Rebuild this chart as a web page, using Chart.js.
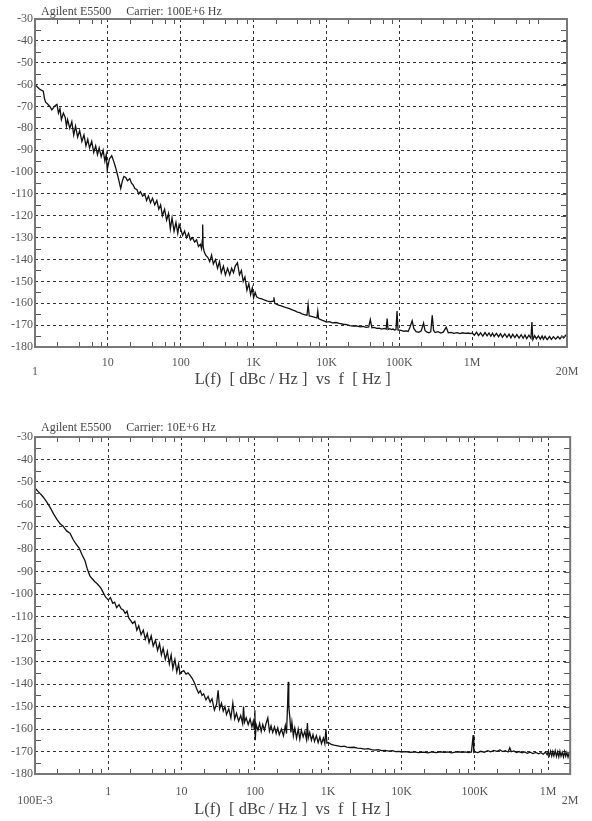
<!DOCTYPE html>
<html>
<head>
<meta charset="utf-8">
<title>Agilent E5500 phase noise</title>
<script src="https://cdn.jsdelivr.net/npm/chart.js@4.4.1/dist/chart.umd.min.js"></script>
<style>
  body { margin: 0; background: #fff; }
  .plot { position: absolute; left: 0; width: 592px; }
  #top { top: 0; height: 400px; }
  #bottom { top: 410px; height: 411px; }
</style>
</head>
<body>
<div class="plot" id="top"><canvas id="chartTop" width="592" height="400"></canvas></div>
<div class="plot" id="bottom"><canvas id="chartBottom" width="592" height="411"></canvas></div>
<script>
        // Carrier 100E+6 Hz, offset 1 Hz .. 20 MHz
        const topFreq = [
            1, 1.07, 1.15, 1.22, 1.3, 1.35, 1.4, 1.5, 1.6, 1.7,
            1.8, 1.9, 2, 2.1, 2.2, 2.3, 2.45, 2.6, 2.7, 2.8,
            3, 3.2, 3.4, 3.6, 3.85, 4.1, 4.4, 4.7, 5, 5.3,
            5.6, 6, 6.4, 6.8, 7.2, 7.6, 8.1, 8.6, 9.1, 9.5,
            9.8,
            10.5, 11.3, 12, 12.8, 13.5, 14.2, 15, 15.8, 16.6, 17.6,
            18.6, 20, 21, 22.3, 23.5, 25, 26.5, 28, 30, 32,
            34, 36, 38.5, 41, 44, 47, 50, 53, 56, 60,
            64, 68, 72, 76, 81, 86, 91, 95,
            100, 106, 113, 120, 128, 136, 145, 155, 165, 175,
            186, 193, 198, 200, 203, 210, 220, 235, 250, 265,
            280, 300, 320, 340, 360, 385, 410, 440, 470, 500,
            530, 560, 600, 640, 680, 720, 760, 810, 860, 910,
            960,
            1000, 1050, 1100, 1200, 1300, 1400, 1550, 1700, 1850, 1900,
            1950, 2000, 2200, 2400, 2600, 2800, 3100, 3400, 3700, 4000,
            4300, 4700, 5100, 5400, 5600, 5800, 6200, 6600, 7000, 7400,
            7600, 7800, 8200, 8800, 9400,
            10000, 11000, 12000, 13500, 15000, 17000, 19000, 21000, 23000, 26000,
            29000, 32000, 35000, 38000, 40000, 42000, 45000, 49000, 53000, 57000,
            62000, 66000, 68000, 70000, 74000, 78000, 82000, 86000, 90000, 93000,
            96000,
            100000, 108000, 116000, 124000, 132000, 140000, 150000, 158000, 170000, 185000,
            200000, 215000, 225000, 240000, 255000, 270000, 283000, 295000, 310000, 340000,
            370000, 400000, 440000, 470000, 510000, 560000, 620000, 680000, 740000, 810000,
            880000, 950000,
            1.0e6, 1.07e6, 1.15e6, 1.22e6, 1.3e6, 1.4e6, 1.5e6, 1.6e6, 1.7e6, 1.8e6,
            1.9e6, 2.0e6, 2.15e6, 2.3e6, 2.45e6, 2.6e6, 2.8e6, 3.0e6, 3.2e6, 3.4e6,
            3.6e6, 3.85e6, 4.1e6, 4.4e6, 4.7e6, 5.0e6, 5.3e6, 5.6e6, 6.0e6, 6.4e6,
            6.6e6, 6.8e6, 7.2e6, 7.6e6, 8.1e6, 8.6e6, 9.1e6, 9.5e6, 10e6, 10.7e6,
            11.5e6, 12.2e6, 13e6, 14e6, 15e6, 16e6, 17e6, 18e6, 19e6, 20e6
        ];
        const topLevel = [
            -60, -61, -62, -62.5, -63, -66.5, -68, -69, -70, -71.5,
            -70.5, -69.5, -69, -73, -71, -76, -73, -75, -79, -76,
            -80, -77, -83, -79, -84, -81, -86, -83, -88, -85,
            -89, -86, -91, -88, -92, -89, -93, -90, -95, -92,
            -99,
            -94, -92.5, -95, -98, -101, -104, -107.5, -104, -102, -102.5,
            -104, -103, -105, -106, -107.5, -108, -110, -109, -111, -110,
            -113, -111, -114, -112, -115, -113, -117, -115, -120, -117,
            -122, -119, -126, -121, -127, -123, -128, -124,
            -126, -129, -127, -130, -128, -131, -130, -132, -131, -134,
            -133, -135, -131, -124, -134, -136.5, -138, -139, -141, -138,
            -142, -140, -144, -141, -146, -143, -147, -144, -147, -144,
            -146, -143, -141.5, -147, -145, -150, -148, -154, -151, -156,
            -153,
            -157.5, -155, -157, -157.8, -158, -158.5, -159, -159.3, -159, -157.3,
            -160, -160.2, -160.8, -161.2, -161.6, -162, -162.5, -163, -163.5, -164,
            -164.3, -165, -165.3, -165.5, -160.6, -165.8, -166, -166.2, -166.5, -166.7,
            -163.6, -167, -167.4, -167.8, -168.2,
            -168.6, -168.4, -169, -168.8, -169.2, -169.6, -169.8, -170.2, -170.4, -170.3,
            -170.8, -170.6, -171, -170.8, -167.4, -171.2, -171, -171.5, -171.4, -171.8,
            -171.5, -171.8, -167, -172, -171.6, -172, -171.8, -172.2, -172, -163.6,
            -172.3,
            -172.3, -172.5, -172.8, -172.6, -172.9, -171, -168, -171.5, -173, -173.3,
            -172.6, -169, -172.4, -173.2, -173.5, -173, -165.5, -172.3, -173.4, -173,
            -173.6, -173.2, -171, -173.5, -173.3, -173.8, -173.4, -173.9, -173.5, -173.8,
            -173.6, -173.9,
            -173.6, -174.6, -173.2, -174.8, -173.5, -175, -173.4, -174.9, -173.6, -175.1,
            -173.7, -175.2, -173.8, -175.3, -173.9, -175.5, -174, -175.6, -174.1, -175.8,
            -174.2, -175.7, -174.3, -175.9, -174.4, -176, -174.5, -176.2, -174.6, -176,
            -168.6, -176.6, -174.8, -176.2, -174.9, -176.4, -175, -176.5, -175.1, -176.6,
            -175.2, -176.5, -175.3, -176.4, -175.2, -176.3, -175, -175.9, -174.7, -175
        ];

        // Carrier 10E+6 Hz, offset 0.1 Hz .. 2 MHz
        const bottomFreq = [
            0.1, 0.11, 0.12, 0.13, 0.145, 0.16, 0.18, 0.2, 0.22, 0.24,
            0.27, 0.3, 0.33, 0.36, 0.4, 0.44, 0.48, 0.52, 0.56, 0.6,
            0.65, 0.7, 0.75, 0.8, 0.86, 0.92,
            1, 1.07, 1.15, 1.22, 1.3, 1.4, 1.5, 1.6, 1.7, 1.8,
            1.9, 2, 2.15, 2.3, 2.45, 2.6, 2.8, 3, 3.2, 3.4,
            3.6, 3.85, 4.1, 4.4, 4.7, 5, 5.3, 5.6, 6, 6.4,
            6.8, 7.2, 7.6, 8.1, 8.6, 9.1, 9.5,
            10, 10.7, 11.5, 12.2, 13, 14, 15, 16, 17, 18,
            19, 20, 21.5, 23, 24.5, 26, 28, 30, 31.5, 33,
            35, 37, 39, 41, 44, 47, 50, 53, 56, 60,
            64, 68, 70, 72, 76, 81, 86, 91, 95, 98,
            100, 101, 104, 110, 116, 122, 128, 135, 142, 150,
            158, 166, 175, 185, 195, 205, 215, 230, 245, 260,
            270, 280, 285, 290, 300, 310, 320, 335, 350, 370,
            390, 410, 430, 455, 480, 505, 520, 535, 560, 590,
            620, 650, 690, 730, 770, 810, 860, 900, 930, 960,
            1000, 1100, 1200, 1350, 1500, 1650, 1800, 2000, 2250, 2500,
            2800, 3100, 3500, 3900, 4300, 4800, 5400, 6000, 6700, 7500,
            8300, 9200,
            10000, 11500, 13000, 15000, 17000, 20000, 23000, 26000, 30000, 34000,
            38000, 43000, 48000, 54000, 60000, 67000, 74000, 82000, 90000, 95000,
            97000,
            100000, 110000, 120000, 135000, 150000, 165000, 180000, 200000, 220000, 240000,
            260000, 285000, 300000, 315000, 340000, 370000, 400000, 440000, 480000, 520000,
            570000, 620000, 680000, 740000, 800000, 860000, 920000, 970000,
            1.0e6, 1.04e6, 1.08e6, 1.12e6, 1.16e6, 1.2e6, 1.25e6, 1.3e6, 1.35e6, 1.4e6,
            1.45e6, 1.5e6, 1.56e6, 1.62e6, 1.68e6, 1.74e6, 1.8e6, 1.87e6, 1.94e6, 2.0e6
        ];
        const bottomLevel = [
            -52.7, -54.2, -55.5, -56.8, -59, -61.2, -64.3, -66.8, -68.6, -69.6,
            -71.8, -72.8, -75.5, -77.5, -79.4, -82.5, -85, -89, -91.8, -93,
            -94.3, -95.2, -96.3, -97.5, -99.5, -101.3,
            -102.5, -101.5, -104, -103.5, -106, -104.6, -106.5, -107, -108.5, -107.5,
            -110.5, -111.5, -113, -112, -116, -114, -118, -116, -120, -117.5,
            -121.5, -118.5, -123, -120.5, -125, -122, -127, -124, -129, -125.5,
            -131, -127, -133, -129, -134.5, -131, -135.5,
            -134.6, -134, -135.5, -135, -136, -137.5, -139.5, -142, -144, -143,
            -145, -144.3, -147, -145.5, -148, -146.5, -151.5, -149, -142.7, -151,
            -148.5, -152, -150, -153.5, -151, -155, -148.4, -155.5, -153, -156.5,
            -154, -157.5, -150, -157, -155, -158, -155.5, -159, -156.5, -160,
            -151.6, -165, -158, -160.5, -157.5, -161, -158, -160.5, -157.5, -155,
            -161, -158.5, -161.5, -159, -162, -159.5, -162.5, -160, -163, -158.5,
            -162, -148, -139, -150, -155, -161.5, -157, -163, -159.5, -164,
            -160, -164.5, -160.5, -163.5, -161, -164.5, -157.3, -164, -161.5, -165,
            -162.5, -165.5, -163, -166, -163.5, -166.5, -164, -166.5, -160, -166.2,
            -166, -166.8, -167.2, -167.5, -167.8, -167.6, -168, -168.2, -168.1, -168.5,
            -168.6, -168.9, -168.7, -169.2, -169.4, -169.2, -169.6, -169.5, -169.8, -169.6,
            -170, -169.9,
            -170.2, -170, -170.4, -170.2, -170.5, -170.3, -170.6, -170.2, -170.5, -170.1,
            -170.4, -170.2, -170.6, -170.3, -170.1, -170.4, -170.2, -170.5, -170.2, -162.7,
            -170.4,
            -170.2, -170.5, -169.9, -170.3, -169.6, -170.1, -169.5, -169.9, -169.3, -170,
            -169.6, -170.2, -168.3, -170.1, -169.7, -170.4, -170, -170.6, -170.2, -170.8,
            -170.3, -170.9, -170.4, -171, -170.5, -171.2, -170.2, -171.4,
            -170.2, -171.8, -169.8, -172, -170, -171.9, -169.6, -172.2, -170.1, -172.3,
            -169.9, -172, -170.3, -172.4, -170, -172.1, -170.4, -172.5, -170.6, -171.2
        ];

        // decade labels on the frequency axis
        const topTickVals = [1, 10, 100, 1e3, 1e4, 1e5, 1e6, 2e7];
        const topTickText = ['1', '10', '100', '1K', '10K', '100K', '1M', '20M'];
        const bottomTickVals = [0.1, 1, 10, 100, 1e3, 1e4, 1e5, 1e6, 2e6];
        const bottomTickText = ['100E-3', '1', '10', '100', '1K', '10K', '100K', '1M', '2M'];
        const minorSteps = [2, 4, 6, 8];

        const serif = "'Liberation Serif', 'Times New Roman', serif";

        // Plot frame and the short inward tick marks
        const framePlugin = {
            id: 'frame',
            afterDraw(chart) {
                const { ctx, chartArea: a, scales: { x, y } } = chart;
                ctx.save();
                ctx.strokeStyle = '#555';
                ctx.lineWidth = 1;
                ctx.beginPath();
                for (let v = -175; v < -30; v += 5) {
                    const py = Math.round(y.getPixelForValue(v)) + 0.5;
                    if (v % 10 !== 0) {
                        ctx.moveTo(a.left, py);
                        ctx.lineTo(a.left + 6, py);
                    }
                    ctx.moveTo(a.right, py);
                    ctx.lineTo(a.right - 6, py);
                }
                for (let d = x.min; d < x.max; d *= 10) {
                    minorSteps.forEach(m => {
                        const f = d * m;
                        if (f >= x.max) return;
                        const px = Math.round(x.getPixelForValue(f)) + 0.5;
                        ctx.moveTo(px, a.top);
                        ctx.lineTo(px, a.top + 5);
                        ctx.moveTo(px, a.bottom);
                        ctx.lineTo(px, a.bottom - 5);
                    });
                }
                ctx.stroke();
                ctx.strokeStyle = '#777';
                ctx.lineWidth = 2;
                ctx.strokeRect(a.left, a.top, a.right - a.left, a.bottom - a.top);
                ctx.restore();
            }
        };

        function makeChart(id, o) {
            const lastTick = o.tickText.length - 1;
            return new Chart(document.getElementById(id), {
                type: 'line',
                data: {
                    datasets: [{
                        data: o.freq.map((f, i) => ({ x: f, y: o.level[i] })),
                        borderColor: '#111',
                        borderWidth: 1.3,
                        pointRadius: 0,
                        tension: 0
                    }]
                },
                options: {
                    responsive: false,
                    animation: false,
                    events: [],
                    layout: { padding: { right: o.padRight } },
                    plugins: {
                        legend: { display: false },
                        tooltip: { enabled: false },
                        title: {
                            display: true,
                            text: o.title,
                            align: 'start',
                            fullSize: false,
                            color: '#444',
                            font: { family: serif, size: 12, weight: 'normal' },
                            padding: o.titlePad
                        }
                    },
                    scales: {
                        x: {
                            type: 'logarithmic',
                            min: o.min,
                            max: o.max,
                            afterBuildTicks: s => { s.ticks = o.tickVals.map(v => ({ value: v })); },
                            afterFit: s => { s.height = o.xHeight; },
                            grid: { color: '#333', drawTicks: false },
                            border: { display: false, dash: [3, 3] },
                            ticks: {
                                autoSkip: false,
                                maxRotation: 0,
                                padding: o.tickPad,
                                color: '#555',
                                font: { family: serif, size: 12, lineHeight: 0.75 },
                                // the end labels sit one line lower
                                callback: (v, i) => (i === 0 || i === lastTick) ? ['', o.tickText[i]] : o.tickText[i]
                            },
                            title: {
                                display: true,
                                text: o.xTitle,
                                color: '#444',
                                font: { family: serif, size: 16.5 },
                                padding: { top: 0, bottom: o.xTitlePad }
                            }
                        },
                        y: {
                            min: -180,
                            max: -30,
                            afterFit: s => { s.width = 35; },
                            grid: { color: '#333', drawTicks: false },
                            border: { display: false, dash: [3, 3] },
                            ticks: {
                                stepSize: 10,
                                padding: 2,
                                color: '#555',
                                font: { family: serif, size: 12 }
                            }
                        }
                    }
                },
                plugins: [framePlugin]
            });
        }

        makeChart('chartTop', {
            freq: topFreq, level: topLevel,
            min: 1, max: 2e7,
            tickVals: topTickVals, tickText: topTickText,
            title: '  Agilent E5500     Carrier: 100E+6 Hz',
            xTitle: 'L(f)  [ dBc / Hz ]  vs  f  [ Hz ]    ',
            titlePad: { top: 4.6, bottom: 0 },
            padRight: 25, xHeight: 53, tickPad: 11.5, xTitlePad: 10
        });

        makeChart('chartBottom', {
            freq: bottomFreq, level: bottomLevel,
            min: 0.1, max: 2e6,
            tickVals: bottomTickVals, tickText: bottomTickText,
            title: '  Agilent E5500     Carrier: 10E+6 Hz',
            xTitle: 'L(f)  [ dBc / Hz ]  vs  f  [ Hz ]     ',
            titlePad: { top: 10.8, bottom: 1.8 },
            padRight: 10, xHeight: 47, tickPad: 13.5, xTitlePad: 1.5
        });
</script>
</body>
</html>
